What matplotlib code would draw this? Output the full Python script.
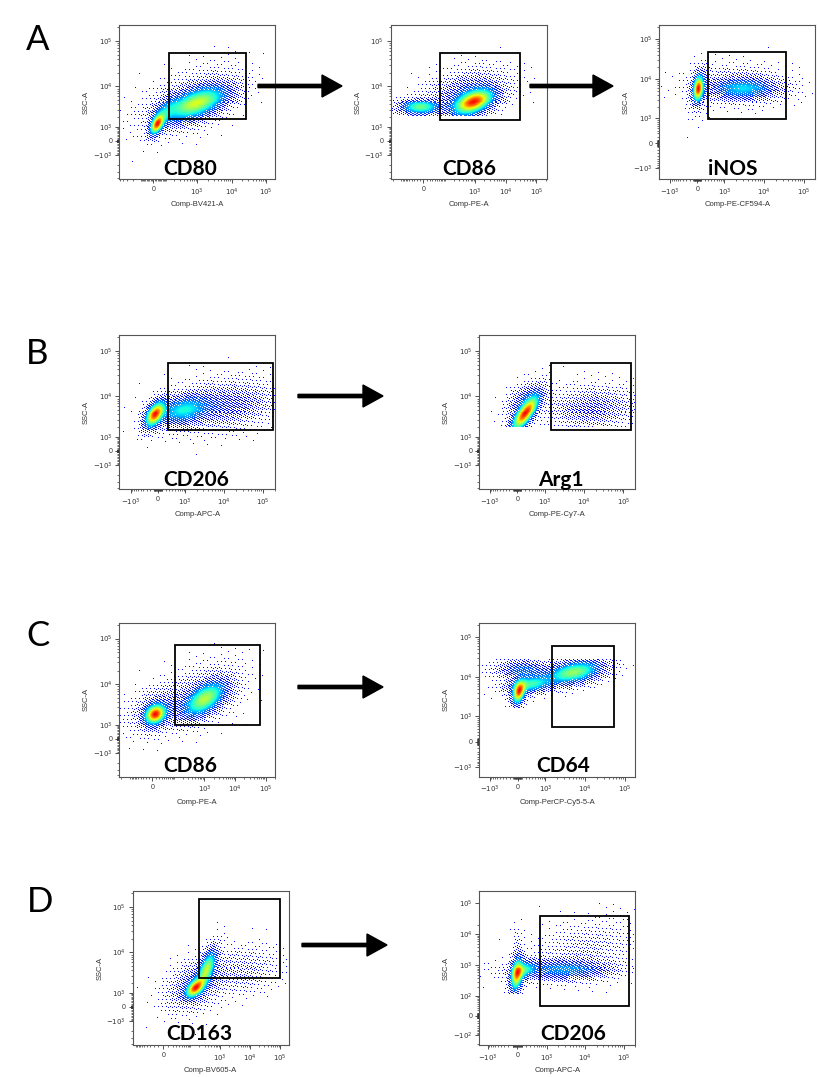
import numpy as np
import matplotlib.pyplot as plt
from matplotlib.colors import ListedColormap
from matplotlib.patches import Rectangle, FancyArrow
from matplotlib.ticker import FixedLocator, FixedFormatter

plt.rcParams['font.family'] = ['Liberation Sans', 'DejaVu Sans']

# ---- data ----
markers = ['CD80', 'CD86', 'iNOS', 'CD206', 'Arg1', 'CD86', 'CD64', 'CD163', 'CD206']
x_channels = ['Comp-BV421-A', 'Comp-PE-A', 'Comp-PE-CF594-A', 'Comp-APC-A', 'Comp-PE-Cy7-A',
              'Comp-PE-A', 'Comp-PerCP-Cy5-5-A', 'Comp-BV605-A', 'Comp-APC-A']
y_channel = 'SSC-A'

# biexponential-like display (asinh), linear width per axis
x_width = [107, 40, 444, 420, 420, 40, 420, 25, 350]
y_width = [1300, 1300, 500, 1300, 1300, 1300, 500, 1300, 50]
x_limits = [(-515, 182000), (-230, 216000), (-1920, 188000), (-1990, 202000), (-1870, 199000),
            (-236, 204000), (-1870, 181000), (-130, 195000), (-1670, 202000)]
y_limits = [(-4380, 224000), (-4380, 224000), (-1950, 231000), (-4380, 224000), (-4380, 224000),
            (-4380, 224000), (-1870, 231000), (-4380, 224000), (-216, 242000)]
y_floor = [None, 2000, None, None, 1900, None, 1700, None, 110]
y_ceiling = [None, None, None, None, None, None, 28000, None, None]

# populations: (x centre, y centre, x spread, y spread [asinh units], correlation, relative weight)
populations = [
    [(30, 1200, 0.28, 0.3, 0.5, 1.0), (1000, 4200, 1.15, 0.5, 0.55, 0.65),
     (100, 2500, 0.5, 0.45, 0.5, 0.2), (600, 5000, 1.5, 0.75, 0.5, 0.07)],
    [(860, 4500, 0.85, 0.38, 0.45, 1.0), (-10, 3400, 0.85, 0.22, 0.0, 0.5),
     (500, 7000, 1.5, 0.6, 0.3, 0.12)],
    [(33, 6000, 0.17, 0.42, 0.2, 1.0), (3150, 6000, 1.05, 0.33, 0.0, 0.3),
     (60, 6000, 0.3, 0.65, 0.3, 0.15), (2500, 7000, 1.3, 0.55, 0.0, 0.06)],
    [(-60, 4000, 0.33, 0.38, 0.5, 1.0), (900, 5000, 0.85, 0.42, 0.3, 0.35),
     (10800, 6500, 1.5, 0.6, 0.2, 0.1)],
    [(214, 4200, 0.45, 0.52, 0.75, 1.0), (200, 9000, 0.55, 0.45, 0.5, 0.12),
     (15600, 5500, 1.3, 0.55, 0.1, 0.08)],
    [(10, 2000, 0.45, 0.28, 0.2, 1.0), (1050, 4600, 0.9, 0.5, 0.55, 0.6),
     (20, 2500, 1.0, 0.55, 0.3, 0.12), (800, 6000, 1.5, 0.75, 0.4, 0.05)],
    [(40, 4200, 0.22, 0.38, 0.3, 1.0), (360, 6600, 0.7, 0.28, 0.3, 0.45),
     (5300, 13000, 0.9, 0.38, 0.4, 0.6), (150, 15000, 0.8, 0.3, 0.0, 0.2)],
    [(143, 1400, 0.42, 0.28, 0.5, 1.0), (350, 4300, 0.42, 0.55, 0.6, 0.65),
     (150, 1800, 1.1, 0.65, 0.4, 0.12), (4550, 4000, 1.5, 0.6, 0.2, 0.04)],
    [(0, 500, 0.22, 0.7, 0.3, 1.0), (2950, 750, 1.5, 0.4, 0.0, 0.3),
     (0, 2500, 0.15, 0.9, 0.0, 0.05), (150, 700, 0.4, 0.4, 0.3, 0.45),
     (10000, 3000, 1.5, 1.1, 0.3, 0.03)],
]

# gates: (x min, y min, x max, y max)
gates = [(130, 1700, 26000, 54600), (65, 1680, 29300, 54600), (290, 930, 34800, 47500),
         (270, 1680, 174000, 52900), (1460, 1680, 157000, 52900), (107, 1000, 62800, 71500),
         (1460, 485, 53800, 58700), (200, 2660, 99000, 148000), (630, 41, 142000, 39000)]

x_ticks = [-1e3, 0, 1e3, 1e4, 1e5]
x_ticklabels = [r'$-10^3$', '0', r'$10^3$', r'$10^4$', r'$10^5$']
y_ticks_small = [-1e2, 0, 1e2, 1e3, 1e4, 1e5]
y_ticklabels_small = [r'$-10^2$', '0', r'$10^2$', r'$10^3$', r'$10^4$', r'$10^5$']

panel_letters = ['A', 'B', 'C', 'D']

# ---- layout (pixels) ----
W, H = 818, 1077
AW, AH = 156, 154.6
ax_boxes = [(119.3, 24.7), (390.7, 24.7), (659.3, 24.7), (119.3, 334.7), (479.3, 334.7),
            (119.3, 622.5), (479.3, 622.5), (132.7, 890.7), (479.3, 890.7)]
label_pos = [(0.457, 0.028), (0.503, 0.028), (0.474, 0.026), (0.492, 0.021), (0.526, 0.021),
             (0.454, 0.034), (0.54, 0.034), (0.424, 0.037), (0.599, 0.034)]
letter_pos = [(26, 50), (26, 364), (26, 646), (27, 912)]
arrows = [(258, 342, 86), (530, 613, 86), (298, 383, 396), (298, 383, 687), (302, 387, 945)]

fig = plt.figure(figsize=(W / 100, H / 100), dpi=100)
cmap = ListedColormap(plt.cm.jet(np.linspace(0.13, 0.9, 256)))

minor = sorted({s * m * 10 ** e for s in (-1, 1) for e in range(1, 5) for m in range(1, 10)} | {2e5})


def dither(nx, ny):
    # R2 ordered-dither threshold pattern
    i, j = np.meshgrid(np.arange(nx), np.arange(ny))
    return np.mod(0.5 + 0.7548776662 * i + 0.5698402910 * j, 1.0)


for k in range(9):
    left, top = ax_boxes[k]
    ax = fig.add_axes([left / W, 1 - (top + AH) / H, AW / W, AH / H])
    wx, wy = x_width[k], y_width[k]
    ax.set_xscale('asinh', linear_width=wx)
    ax.set_yscale('asinh', linear_width=wy)

    nx, ny = 156, 155
    ue = np.linspace(np.arcsinh(x_limits[k][0] / wx), np.arcsinh(x_limits[k][1] / wx), nx + 1)
    ve = np.linspace(np.arcsinh(y_limits[k][0] / wy), np.arcsinh(y_limits[k][1] / wy), ny + 1)
    U, V = np.meshgrid((ue[1:] + ue[:-1]) / 2, (ve[1:] + ve[:-1]) / 2)
    dens = np.zeros_like(U)
    for cx, cy, su, sv, rho, wgt in populations[k]:
        du = (U - np.arcsinh(cx / wx)) / su
        dv = (V - np.arcsinh(cy / wy)) / sv
        dens += wgt * np.exp(-0.5 * (du ** 2 - 2 * rho * du * dv + dv ** 2) / (1 - rho ** 2))
    if y_floor[k] is not None:
        dens[V < np.arcsinh(y_floor[k] / wy)] = 0
    if y_ceiling[k] is not None:
        dens[V > np.arcsinh(y_ceiling[k] / wy)] = 0
    rel = dens / dens.max()
    show = np.clip(rel / 0.3, 0, 1) ** 0.7 > dither(nx, ny)
    shade = np.clip((rel - 0.08) / 0.92, 0, 1) ** 0.9
    col = np.ma.masked_where(~show, shade)
    ax.pcolormesh(wx * np.sinh(ue), wy * np.sinh(ve), col, cmap=cmap, vmin=0, vmax=1)

    ax.set_xlim(x_limits[k])
    ax.set_ylim(y_limits[k])

    g = gates[k]
    ax.add_patch(Rectangle((g[0], g[1]), g[2] - g[0], g[3] - g[1], fill=False,
                           ec='black', lw=1.3, zorder=5))

    ax.xaxis.set_major_locator(FixedLocator(x_ticks))
    ax.xaxis.set_major_formatter(FixedFormatter(x_ticklabels))
    if k == 8:
        ax.yaxis.set_major_locator(FixedLocator(y_ticks_small))
        ax.yaxis.set_major_formatter(FixedFormatter(y_ticklabels_small))
        ax.yaxis.set_minor_locator(FixedLocator([v / 10 for v in minor if abs(v) >= 10]))
    else:
        ax.yaxis.set_major_locator(FixedLocator(x_ticks))
        ax.yaxis.set_major_formatter(FixedFormatter(x_ticklabels))
        ax.yaxis.set_minor_locator(FixedLocator(minor))
    ax.xaxis.set_minor_locator(FixedLocator(minor))
    ax.tick_params(which='major', direction='out', length=3, width=0.6, labelsize=5, pad=2,
                   color='#333333', labelcolor='#333333')
    ax.tick_params(which='minor', direction='out', length=1.6, width=0.5, color='#333333')
    for s in ax.spines.values():
        s.set_color('#555555')
        s.set_linewidth(0.8)

    ax.text(0.5, -25 / AH, x_channels[k], transform=ax.transAxes, ha='center', va='center',
            fontsize=5.5, color='#333333')
    ax.text(-33 / AW, 0.5, y_channel, transform=ax.transAxes, ha='center', va='center',
            rotation=90, fontsize=5.5, color='#333333')
    ax.text(label_pos[k][0], label_pos[k][1], markers[k], transform=ax.transAxes,
            ha='center', va='baseline', fontsize=15, fontweight='bold',
            family=['Lato', 'DejaVu Sans'], zorder=6)

for letter, (px, py) in zip(panel_letters, letter_pos):
    fig.text(px / W, 1 - py / H, letter, ha='left', va='baseline', fontsize=25,
             family=['Lato', 'DejaVu Sans'])

for x0, x1, y in arrows:
    fig.add_artist(FancyArrow(x0 / 100, (H - y) / 100, (x1 - x0) / 100, 0, width=0.033,
                              head_width=0.22, head_length=0.2, length_includes_head=True,
                              color='black', transform=fig.dpi_scale_trans))

fig.savefig('out.png', dpi=100, facecolor='white')
